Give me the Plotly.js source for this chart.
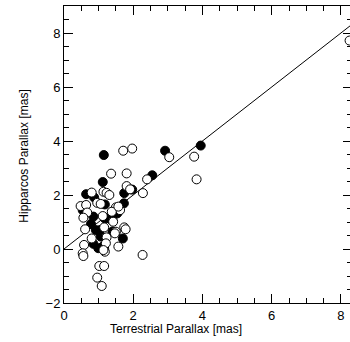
<!DOCTYPE html>
<html>
<head>
<meta charset="utf-8">
<script src="https://cdn.plot.ly/plotly-3.0.1.min.js"></script>
<style>html,body{margin:0;padding:0;overflow:hidden;background:#fff;}</style>
</head>
<body>
<div id="chart" style="width:352px;height:342px;"></div>
<script>
// Filled circles
const filledX = [1.15, 2.92, 3.95, 2.55, 1.12, 0.64, 0.87, 1.74, 1.97, 1.18, 1.73, 0.54, 1.54, 1.17, 1.28, 1.40, 0.85, 0.78, 0.92, 1.40, 1.06, 1.70, 0.85, 0.99, 1.12, 1.16, 1.35, 1.04];
const filledY = [3.48, 3.64, 3.83, 2.73, 2.48, 2.03, 1.91, 2.07, 2.20, 1.65, 1.69, 1.44, 1.32, 1.14, 1.14, 1.14, 1.20, 0.93, 0.70, 0.65, 0.46, 0.39, 0.19, 0.03, 0.09, 0.03, 1.10, 0.70];
// Open circles
const openX = [1.71, 1.97, 3.04, 3.76, 3.83, 1.36, 1.81, 2.40, 1.14, 1.23, 1.31, 0.80, 1.81, 1.91, 2.28, 0.96, 1.06, 0.48, 0.64, 0.67, 0.56, 1.50, 1.62, 1.38, 1.12, 1.42, 0.61, 1.74, 1.78, 1.16, 0.80, 1.23, 1.50, 1.21, 1.57, 0.58, 0.54, 0.56, 1.18, 2.27, 1.02, 1.16, 0.96, 1.09, 8.25, 1.47, 1.57, 1.14];
const openY = [3.64, 3.72, 3.40, 3.42, 2.58, 2.79, 2.80, 2.58, 2.12, 2.08, 2.00, 2.09, 2.33, 2.21, 2.07, 1.71, 1.67, 1.59, 1.63, 1.35, 1.16, 1.54, 1.44, 1.38, 1.22, 1.01, 0.73, 0.80, 0.73, 0.80, 0.39, 0.43, 0.64, 0.21, 0.09, 0.15, -0.16, -0.26, -0.10, -0.22, -0.63, -0.63, -1.06, -1.37, 7.72, 0.58, 1.57, -0.04];
// One-to-one reference line
const lineX = [0, 8.32];
const lineY = [0, 8.32];

const xTitle = "Terrestrial Parallax [mas]";
const yTitle = "Hipparcos Parallax [mas]";

const traces = [
  {x: lineX, y: lineY, mode: 'lines', line: {color: '#000', width: 1}, hoverinfo: 'skip', cliponaxis: true},
  {x: filledX, y: filledY, mode: 'markers', marker: {size: 9, color: '#000', line: {color: '#000', width: 1}}},
  {x: openX, y: openY, mode: 'markers', marker: {size: 9, color: '#fff', line: {color: '#000', width: 1}}}
];

const axisCommon = {
  showgrid: false, zeroline: false, showline: true, linecolor: '#000', linewidth: 1,
  mirror: 'allticks', ticks: 'inside', ticklen: 9, tickwidth: 1, tickcolor: '#000',
  tickfont: {family: 'Liberation Sans, Arial, sans-serif', size: 13, color: '#000'},
  dtick: 2, tick0: 0,
  minor: {dtick: 0.5, ticklen: 5, ticks: 'inside', tickcolor: '#000', tickwidth: 1, showgrid: false}
};

const layout = {
  width: 352, height: 342,
  margin: {l: 64, r: 0, t: 6, b: 39},
  paper_bgcolor: '#fff', plot_bgcolor: '#fff',
  showlegend: false,
  font: {family: 'Liberation Sans, Arial, sans-serif', color: '#000'},
  xaxis: Object.assign({}, axisCommon, {range: [0, 8.32]}),
  yaxis: Object.assign({}, axisCommon, {range: [-2, 9]}),
  annotations: [
    {text: xTitle, xref: 'paper', yref: 'paper', x: 0.388, y: -0.088, xanchor: 'center', yanchor: 'middle', showarrow: false, font: {size: 12, color: '#000'}},
    {text: yTitle, xref: 'paper', yref: 'paper', x: -0.14, y: 0.495, xanchor: 'center', yanchor: 'middle', textangle: -90, showarrow: false, font: {size: 12, color: '#000'}}
  ]
};

Plotly.newPlot('chart', traces, layout, {staticPlot: true, displayModeBar: false});
</script>
</body>
</html>
